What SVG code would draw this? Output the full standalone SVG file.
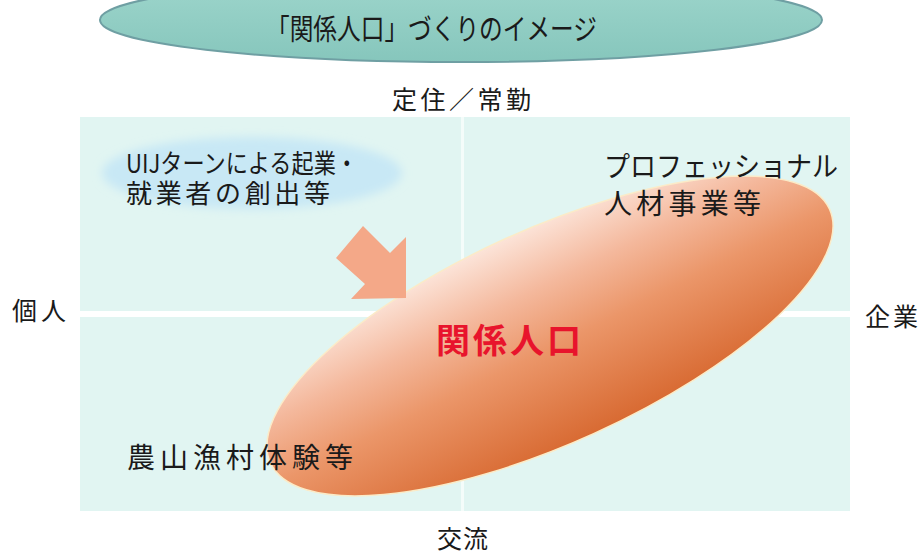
<svg xmlns="http://www.w3.org/2000/svg" width="921" height="555" viewBox="0 0 921 555">
<style>
  .lbl { font-family: "Noto Sans CJK JP", "Noto Sans", sans-serif; fill: #1a1a1a; }
  .axis { font-size: 25px; }
  .item { font-size: 28px; }
  .uij { font-size: 26px; }
</style>
<defs>
  <linearGradient id="gOrange" x1="0.45" y1="0" x2="0.55" y2="1">
    <stop offset="0" stop-color="#FCE4D9"/>
    <stop offset="0.28" stop-color="#F4B89C"/>
    <stop offset="0.55" stop-color="#EB9669"/>
    <stop offset="1" stop-color="#D86A32"/>
  </linearGradient>
  <linearGradient id="gTeal" x1="0" y1="0" x2="0" y2="1">
    <stop offset="0" stop-color="#9ED6CC"/>
    <stop offset="1" stop-color="#86C6BC"/>
  </linearGradient>
  <filter id="soft" x="-20%" y="-40%" width="140%" height="180%">
    <feGaussianBlur stdDeviation="5"/>
  </filter>
</defs>
<rect width="921" height="555" fill="#ffffff"/>

<g id="title">
  <ellipse cx="461" cy="20" rx="361" ry="42" fill="url(#gTeal)" stroke="#6F9FA3" stroke-width="2"/>
  <text class="lbl" x="266" y="40" font-size="29" textLength="331" lengthAdjust="spacingAndGlyphs">「関係人口」づくりのイメージ</text>
</g>

<g id="panel">
  <rect x="80" y="117" width="770" height="394" fill="#E1F5F2"/>
  <rect x="80" y="311" width="770" height="6" fill="#ffffff"/>
  <rect x="461" y="117" width="3" height="394" fill="#F4FCFA"/>
</g>

<g id="axis-labels">
  <text class="lbl axis" x="392" y="109" textLength="139" lengthAdjust="spacing">定住／常勤</text>
  <text class="lbl axis" x="437" y="548" textLength="51" lengthAdjust="spacing">交流</text>
  <text class="lbl axis" x="12" y="320" textLength="54" lengthAdjust="spacing">個人</text>
  <text class="lbl axis" x="865" y="326" textLength="53" lengthAdjust="spacing">企業</text>
</g>

<g id="uij">
  <ellipse cx="252" cy="173" rx="150" ry="36" fill="#C8E8F5" filter="url(#soft)"/>
  <text class="lbl uij"><tspan x="126" y="173" textLength="232" lengthAdjust="spacingAndGlyphs">UIJターンによる起業・</tspan><tspan x="126" y="203" textLength="204" lengthAdjust="spacing">就業者の創出等</tspan></text>
</g>

<g id="kankei">
  <ellipse cx="550" cy="336" rx="307" ry="107" transform="rotate(-24.4 550 336)" fill="url(#gOrange)" stroke="#FBEBC8" stroke-width="1.5"/>
  <text x="436" y="353" font-family="'Noto Sans CJK JP', sans-serif" font-size="34" font-weight="700" fill="#E8142C" textLength="145" lengthAdjust="spacing">関係人口</text>
</g>

<g id="professional">
  <text class="lbl item" x="604" y="177" textLength="234" lengthAdjust="spacingAndGlyphs">プロフェッショナル</text>
  <text class="lbl item" x="604" y="214" textLength="157" lengthAdjust="spacing">人材事業等</text>
</g>

<g id="rural">
  <text class="lbl item" x="127" y="468" textLength="226" lengthAdjust="spacing">農山漁村体験等</text>
</g>

<g id="connectors">
  <polygon points="363,226 390,253 406,237 406,298 351,299 365,284 336,258" fill="#F4A888"/>
</g>
</svg>
